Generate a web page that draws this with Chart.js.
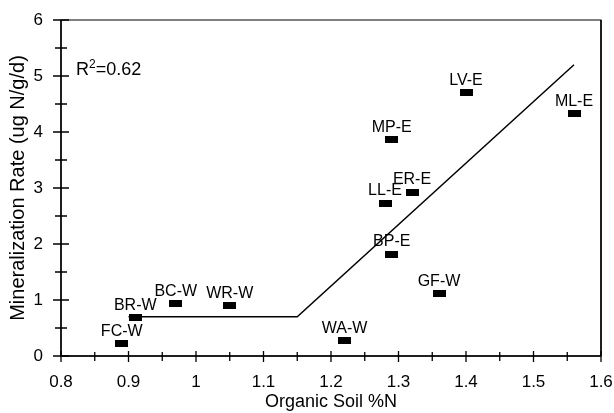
<!DOCTYPE html>
<html>
<head>
<meta charset="utf-8">
<script src="https://cdn.jsdelivr.net/npm/chart.js@4/dist/chart.umd.min.js"></script>
<style>
  body { margin: 0; background: #fff; }
</style>
</head>
<body>
<canvas id="chart" width="614" height="413"></canvas>
<script>
const siteLabels = ['FC-W', 'BR-W', 'BC-W', 'WR-W', 'WA-W', 'BP-E', 'LL-E', 'MP-E', 'ER-E', 'GF-W', 'LV-E', 'ML-E'];
const soilN = [0.89, 0.91, 0.97, 1.05, 1.22, 1.29, 1.28, 1.29, 1.32, 1.36, 1.40, 1.56];
const mineralRate = [0.22, 0.68, 0.93, 0.90, 0.27, 1.82, 2.73, 3.86, 2.92, 1.11, 4.70, 4.33];

// two-segment fit line
const fitX = [0.90, 1.15, 1.56];
const fitY = [0.70, 0.70, 5.20];

const rSquared = '0.62';
const FONT = 'Liberation Sans, Arial, sans-serif';

// black rectangle marker
const marker = document.createElement('canvas');
marker.width = 13;
marker.height = 7;
const mctx = marker.getContext('2d');
mctx.fillStyle = '#000';
mctx.fillRect(0, 0, 13, 7);

// white background, frame, crossing ticks, labels
const decorPlugin = {
    id: 'decor',
    beforeDraw(chart) {
        const ctx = chart.ctx;
        ctx.save();
        ctx.fillStyle = '#fff';
        ctx.fillRect(0, 0, chart.width, chart.height);
        ctx.restore();
    },
    afterDraw(chart) {
        const ctx = chart.ctx;
        const a = chart.chartArea;
        const xs = chart.scales.x;
        const ys = chart.scales.y;
        ctx.save();
        ctx.strokeStyle = '#000';

        // frame
        ctx.lineWidth = 1;
        ctx.strokeRect(a.left, a.top, a.right - a.left, a.bottom - a.top);
        ctx.lineWidth = 1.5;
        ctx.beginPath();
        ctx.moveTo(a.left, a.top);
        ctx.lineTo(a.left, a.bottom);
        ctx.lineTo(a.right, a.bottom);
        ctx.moveTo(a.right, a.top);
        ctx.lineTo(a.right, a.bottom);
        ctx.stroke();

        // x ticks every 0.05
        ctx.lineWidth = 1.3;
        ctx.beginPath();
        for (let i = 0; i <= 16; i++) {
            const px = xs.getPixelForValue(0.8 + i * 0.05);
            const major = i % 2 === 0;
            ctx.moveTo(px, a.bottom - (major ? 5 : 4));
            ctx.lineTo(px, a.bottom + (major ? 6 : 5));
        }
        // y ticks every 0.5
        for (let i = 0; i <= 12; i++) {
            const py = ys.getPixelForValue(i * 0.5);
            const major = i % 2 === 0;
            ctx.moveTo(a.left - (major ? 8 : 6), py);
            ctx.lineTo(a.left + (major ? 8 : 6), py);
        }
        ctx.stroke();

        // point labels
        const meta = chart.getDatasetMeta(0);
        ctx.fillStyle = '#000';
        ctx.font = '16px ' + FONT;
        ctx.textAlign = 'center';
        ctx.textBaseline = 'alphabetic';
        meta.data.forEach((pt, i) => {
            ctx.fillText(siteLabels[i], pt.x, pt.y - 8);
        });

        // R^2 annotation
        let tx = a.left + 15;
        const ty = ys.getPixelForValue(5) - 1;
        ctx.textAlign = 'left';
        ctx.font = '18px ' + FONT;
        ctx.fillText('R', tx, ty);
        tx += ctx.measureText('R').width;
        ctx.font = '12px ' + FONT;
        ctx.fillText('2', tx, ty - 7);
        tx += ctx.measureText('2').width;
        ctx.font = '18px ' + FONT;
        ctx.fillText('=' + rSquared, tx, ty);
        ctx.restore();
    }
};

const ctx = document.getElementById('chart').getContext('2d');
const chart = new Chart(ctx, {
    type: 'scatter',
    data: {
        datasets: [{
            label: 'Sites',
            data: soilN.map((x, i) => ({ x: x, y: mineralRate[i] })),
            pointStyle: marker,
            pointRadius: 6,
            backgroundColor: '#000',
            borderColor: '#000'
        }, {
            label: 'Fit',
            data: fitX.map((x, i) => ({ x: x, y: fitY[i] })),
            showLine: true,
            pointRadius: 0,
            borderColor: '#000',
            borderWidth: 1.5,
            fill: false
        }]
    },
    options: {
        responsive: false,
        animation: false,
        layout: { padding: { left: 0, right: 13, top: 20, bottom: 0 } },
        plugins: {
            legend: { display: false },
            tooltip: { enabled: false }
        },
        scales: {
            x: {
                type: 'linear',
                min: 0.8,
                max: 1.6,
                grid: { display: false, drawTicks: false },
                border: { display: false },
                ticks: {
                    stepSize: 0.1,
                    padding: 16,
                    color: '#000',
                    font: { family: FONT, size: 17 },
                    callback: v => String(+v.toFixed(1))
                },
                title: {
                    display: true,
                    text: 'Organic Soil %N',
                    color: '#000',
                    font: { family: FONT, size: 18 },
                    padding: { top: 0, bottom: 0 }
                },
                afterFit(scale) {
                    scale.height = 57;
                    scale.paddingLeft = 0;
                    scale.paddingRight = 0;
                }
            },
            y: {
                min: 0,
                max: 6,
                grid: { display: false, drawTicks: false },
                border: { display: false },
                ticks: {
                    stepSize: 1,
                    padding: 18,
                    color: '#000',
                    font: { family: FONT, size: 17 }
                },
                title: {
                    display: true,
                    text: 'Mineralization Rate (ug N/g/d)',
                    color: '#000',
                    font: { family: FONT, size: 20 },
                    padding: { top: 6, bottom: 0 }
                },
                afterFit(scale) {
                    scale.width = 61;
                    scale.paddingTop = 0;
                    scale.paddingBottom = 0;
                }
            }
        }
    },
    plugins: [decorPlugin]
});
</script>
</body>
</html>
